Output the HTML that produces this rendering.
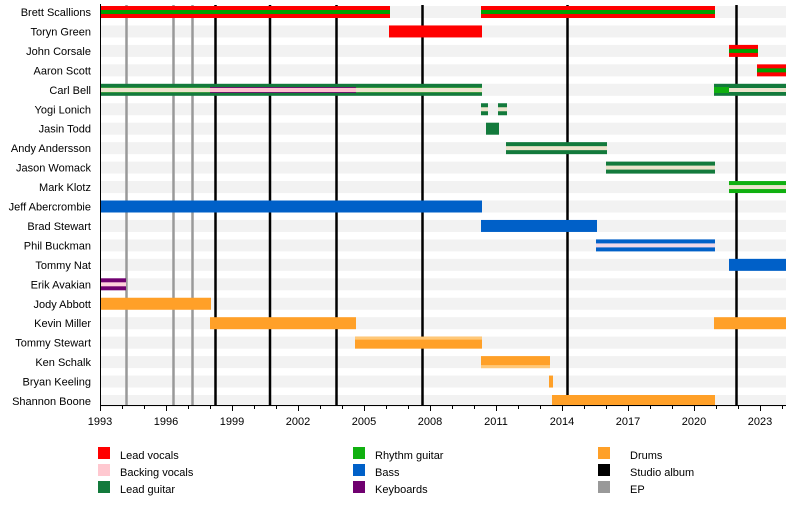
<!DOCTYPE html>
<html><head><meta charset="utf-8"><style>
html,body{margin:0;padding:0;background:#fff;}
svg{display:block;font-family:"Liberation Sans",Arial,sans-serif;}
</style></head><body>
<svg width="800" height="505" viewBox="0 0 800 505" xmlns="http://www.w3.org/2000/svg">
<!-- background row bands -->
<g fill="#f2f2f2">
<rect x="100" y="6" width="686" height="12"/>
<rect x="100" y="25.45" width="686" height="12"/>
<rect x="100" y="44.9" width="686" height="12"/>
<rect x="100" y="64.35" width="686" height="12"/>
<rect x="100" y="83.8" width="686" height="12"/>
<rect x="100" y="103.25" width="686" height="12"/>
<rect x="100" y="122.7" width="686" height="12"/>
<rect x="100" y="142.15" width="686" height="12"/>
<rect x="100" y="161.6" width="686" height="12"/>
<rect x="100" y="181.05" width="686" height="12"/>
<rect x="100" y="200.5" width="686" height="12"/>
<rect x="100" y="219.95" width="686" height="12"/>
<rect x="100" y="239.4" width="686" height="12"/>
<rect x="100" y="258.85" width="686" height="12"/>
<rect x="100" y="278.3" width="686" height="12"/>
<rect x="100" y="297.75" width="686" height="12"/>
<rect x="100" y="317.2" width="686" height="12"/>
<rect x="100" y="336.65" width="686" height="12"/>
<rect x="100" y="356.1" width="686" height="12"/>
<rect x="100" y="375.55" width="686" height="12"/>
<rect x="100" y="395" width="686" height="12"/>
</g>
<!-- EP lines -->
<g stroke="#999" stroke-width="2.5">
<line x1="126.5" y1="5" x2="126.5" y2="405"/>
<line x1="173.5" y1="5" x2="173.5" y2="405"/>
<line x1="192.5" y1="5" x2="192.5" y2="405"/>
</g>
<!-- album lines -->
<g stroke="#000" stroke-width="2.5">
<line x1="215.5" y1="5" x2="215.5" y2="405"/>
<line x1="270" y1="5" x2="270" y2="405"/>
<line x1="336.5" y1="5" x2="336.5" y2="405"/>
<line x1="422.5" y1="5" x2="422.5" y2="405"/>
<line x1="567.5" y1="5" x2="567.5" y2="405"/>
<line x1="736.5" y1="5" x2="736.5" y2="405"/>
</g>
<!-- bars -->
<!-- Brett -->
<rect x="100" y="6" width="290" height="12" fill="#ff0000"/>
<rect x="100" y="10" width="290" height="4" fill="#00a000"/>
<rect x="481" y="6" width="234" height="12" fill="#ff0000"/>
<rect x="481" y="10" width="234" height="4" fill="#00a000"/>
<!-- Toryn -->
<rect x="389" y="25.45" width="93" height="12" fill="#ff0000"/>
<!-- John -->
<rect x="729" y="44.9" width="29" height="12" fill="#ff0000"/>
<rect x="729" y="48.9" width="29" height="4" fill="#00a000"/>
<!-- Aaron -->
<rect x="757" y="64.35" width="29" height="12" fill="#ff0000"/>
<rect x="757" y="68.35" width="29" height="4" fill="#00a000"/>
<!-- Carl Bell -->
<rect x="100" y="83.8" width="382" height="12" fill="#137a3c"/>
<rect x="100" y="87" width="382" height="6" fill="#3a9a40"/>
<rect x="100" y="88" width="382" height="4" fill="#ece4cc"/>
<rect x="210" y="87" width="146" height="6" fill="#6b1a6b"/>
<rect x="210" y="88" width="146" height="4" fill="#ffc0d0"/>
<rect x="714" y="83.8" width="72" height="12" fill="#137a3c"/>
<rect x="729" y="88" width="57" height="4" fill="#ece4cc"/>
<rect x="714" y="87" width="15" height="6" fill="#10b010"/>
<!-- Yogi -->
<rect x="481" y="103.25" width="7" height="12" fill="#137a3c"/>
<rect x="481" y="107.25" width="7" height="4" fill="#ece4cc"/>
<rect x="498" y="103.25" width="9" height="12" fill="#137a3c"/>
<rect x="498" y="107.25" width="9" height="4" fill="#ece4cc"/>
<!-- Jasin -->
<rect x="486" y="122.7" width="13" height="12" fill="#137a3c"/>
<!-- Andy -->
<rect x="506" y="142.15" width="101" height="12" fill="#137a3c"/>
<rect x="506" y="146.15" width="101" height="4" fill="#ece4cc"/>
<!-- Jason -->
<rect x="606" y="161.6" width="109" height="12" fill="#137a3c"/>
<rect x="606" y="165.6" width="109" height="4" fill="#ece4cc"/>
<!-- Mark -->
<rect x="729" y="181.05" width="57" height="12" fill="#10b010"/>
<rect x="729" y="185.05" width="57" height="4" fill="#ece4cc"/>
<!-- Jeff -->
<rect x="100" y="200.5" width="382" height="12" fill="#0060c8"/>
<!-- Brad -->
<rect x="481" y="219.95" width="116" height="12" fill="#0060c8"/>
<!-- Phil -->
<rect x="596" y="239.4" width="119" height="12" fill="#0060c8"/>
<rect x="596" y="243.4" width="119" height="4" fill="#f0d8e8"/>
<!-- Tommy Nat -->
<rect x="729" y="258.85" width="57" height="12" fill="#0060c8"/>
<!-- Erik -->
<rect x="100" y="278.3" width="26" height="12" fill="#700070"/>
<rect x="100" y="282.3" width="26" height="4" fill="#ffd0dc"/>
<!-- Jody -->
<rect x="100" y="297.75" width="111" height="12" fill="#ffa028"/>
<!-- Kevin -->
<rect x="210" y="317.2" width="146" height="12" fill="#ffa028"/>
<rect x="714" y="317.2" width="72" height="12" fill="#ffa028"/>
<!-- Tommy Stewart -->
<rect x="355" y="336.65" width="127" height="12" fill="#ffa028"/>
<rect x="355" y="336.65" width="127" height="3" fill="#ffc878"/>
<!-- Ken -->
<rect x="481" y="356.1" width="69" height="12" fill="#ffa028"/>
<rect x="481" y="365.1" width="69" height="3" fill="#ffc878"/>
<!-- Bryan -->
<rect x="549" y="375.55" width="4" height="12" fill="#ffa028"/>
<!-- Shannon -->
<rect x="552" y="395" width="163" height="11" fill="#ffa028"/>
<!-- axes -->
<line x1="100.5" y1="4" x2="100.5" y2="406" stroke="#000" stroke-width="1"/>
<line x1="100" y1="405.5" x2="786" y2="405.5" stroke="#000" stroke-width="1"/>
<g stroke="#000" stroke-width="1">
<line x1="122.5" y1="405" x2="122.5" y2="409"/><line x1="144.5" y1="405" x2="144.5" y2="409"/>
<line x1="188.5" y1="405" x2="188.5" y2="409"/><line x1="210.5" y1="405" x2="210.5" y2="409"/>
<line x1="254.5" y1="405" x2="254.5" y2="409"/><line x1="276.5" y1="405" x2="276.5" y2="409"/>
<line x1="320.5" y1="405" x2="320.5" y2="409"/><line x1="342.5" y1="405" x2="342.5" y2="409"/>
<line x1="386.5" y1="405" x2="386.5" y2="409"/><line x1="408.5" y1="405" x2="408.5" y2="409"/>
<line x1="452.5" y1="405" x2="452.5" y2="409"/><line x1="474.5" y1="405" x2="474.5" y2="409"/>
<line x1="518.5" y1="405" x2="518.5" y2="409"/><line x1="540.5" y1="405" x2="540.5" y2="409"/>
<line x1="584.5" y1="405" x2="584.5" y2="409"/><line x1="606.5" y1="405" x2="606.5" y2="409"/>
<line x1="650.5" y1="405" x2="650.5" y2="409"/><line x1="672.5" y1="405" x2="672.5" y2="409"/>
<line x1="716.5" y1="405" x2="716.5" y2="409"/><line x1="738.5" y1="405" x2="738.5" y2="409"/>
<line x1="782.5" y1="405" x2="782.5" y2="409"/>
<line x1="100.5" y1="405" x2="100.5" y2="411"/><line x1="166.5" y1="405" x2="166.5" y2="411"/>
<line x1="232.5" y1="405" x2="232.5" y2="411"/><line x1="298.5" y1="405" x2="298.5" y2="411"/>
<line x1="364.5" y1="405" x2="364.5" y2="411"/><line x1="430.5" y1="405" x2="430.5" y2="411"/>
<line x1="496.5" y1="405" x2="496.5" y2="411"/><line x1="562.5" y1="405" x2="562.5" y2="411"/>
<line x1="628.5" y1="405" x2="628.5" y2="411"/><line x1="694.5" y1="405" x2="694.5" y2="411"/>
<line x1="760.5" y1="405" x2="760.5" y2="411"/>
</g>
<g font-size="11" fill="#000" text-anchor="middle">
<text x="100" y="425">1993</text><text x="166" y="425">1996</text><text x="232" y="425">1999</text>
<text x="298" y="425">2002</text><text x="364" y="425">2005</text><text x="430" y="425">2008</text>
<text x="496" y="425">2011</text><text x="562" y="425">2014</text><text x="628" y="425">2017</text>
<text x="694" y="425">2020</text><text x="760" y="425">2023</text>
</g>
<g font-size="11" fill="#000" text-anchor="end">
<text x="91" y="16">Brett Scallions</text>
<text x="91" y="35.5">Toryn Green</text>
<text x="91" y="55">John Corsale</text>
<text x="91" y="74.4">Aaron Scott</text>
<text x="91" y="93.8">Carl Bell</text>
<text x="91" y="113.3">Yogi Lonich</text>
<text x="91" y="132.7">Jasin Todd</text>
<text x="91" y="152.2">Andy Andersson</text>
<text x="91" y="171.6">Jason Womack</text>
<text x="91" y="191">Mark Klotz</text>
<text x="91" y="210.5">Jeff Abercrombie</text>
<text x="91" y="230">Brad Stewart</text>
<text x="91" y="249.4">Phil Buckman</text>
<text x="91" y="268.9">Tommy Nat</text>
<text x="91" y="288.3">Erik Avakian</text>
<text x="91" y="307.8">Jody Abbott</text>
<text x="91" y="327.2">Kevin Miller</text>
<text x="91" y="346.7">Tommy Stewart</text>
<text x="91" y="366.1">Ken Schalk</text>
<text x="91" y="385.6">Bryan Keeling</text>
<text x="91" y="405">Shannon Boone</text>
</g>
<!-- legend -->
<rect x="98" y="447" width="12" height="12" fill="#ff0000"/>
<rect x="98" y="464" width="12" height="12" fill="#ffc8d0"/>
<rect x="98" y="481" width="12" height="12" fill="#137a3c"/>
<rect x="353" y="447" width="12" height="12" fill="#10b010"/>
<rect x="353" y="464" width="12" height="12" fill="#0060c8"/>
<rect x="353" y="481" width="12" height="12" fill="#700070"/>
<rect x="598" y="447" width="12" height="12" fill="#ffa028"/>
<rect x="598" y="464" width="12" height="12" fill="#000"/>
<rect x="598" y="481" width="12" height="12" fill="#999"/>
<g font-size="11" fill="#000">
<text x="120" y="459">Lead vocals</text>
<text x="120" y="476">Backing vocals</text>
<text x="120" y="493">Lead guitar</text>
<text x="375" y="459">Rhythm guitar</text>
<text x="375" y="476">Bass</text>
<text x="375" y="493">Keyboards</text>
<text x="630" y="459">Drums</text>
<text x="630" y="476">Studio album</text>
<text x="630" y="493">EP</text>
</g>
</svg>
</body></html>
